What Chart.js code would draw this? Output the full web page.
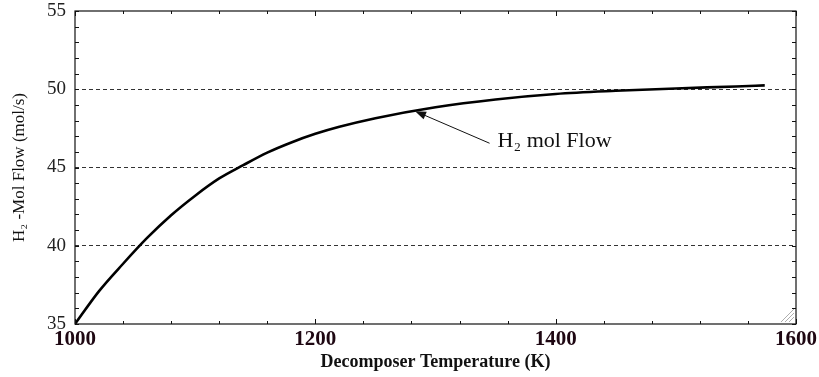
<!DOCTYPE html>
<html lang="en">
<head>
  <meta charset="UTF-8">
  <title>H2 mol flow vs decomposer temperature</title>
  <script src="https://cdn.jsdelivr.net/npm/chart.js"></script>
  <style>
    body { margin: 0; background: #fff; }
    canvas { display: block; }
  </style>
</head>
<body>
  <canvas id="flowChart" width="819" height="377"></canvas>

  <script>
    // values
    const temperature = [1000, 1020, 1040, 1060, 1080, 1100, 1120, 1140, 1160, 1180, 1200,
                         1220, 1250, 1300, 1350, 1400, 1450, 1500, 1550, 1574];
    const h2Flow = [35.0, 37.1, 38.85, 40.5, 41.95, 43.2, 44.3, 45.15, 45.95, 46.6, 47.15,
                    47.6, 48.15, 48.85, 49.35, 49.7, 49.9, 50.05, 50.18, 50.25];
    const xTicks = [1000, 1200, 1400, 1600];
    const yTicks = [35, 40, 45, 50, 55];
    const seriesLabel = "H\u2082 mol Flow";
    // arrow tip / tail and text spot, in data units
    const noteTip = [1283, 48.6];
    const noteTail = [1345, 46.55];

    const serif = "'Liberation Serif', 'Times New Roman', serif";

    // frame, inward minor ticks, the note and arrow
    const framePlugin = {
      id: "frame",
      afterDraw(chart) {
        const { ctx, chartArea: a, scales: { x, y } } = chart;
        ctx.save();
        ctx.strokeStyle = "#111";
        ctx.lineWidth = 1.2;
        ctx.strokeRect(a.left, a.top, a.right - a.left, a.bottom - a.top);

        ctx.lineWidth = 1;
        ctx.beginPath();
        for (let v = yTicks[0]; v <= yTicks[yTicks.length - 1]; v += 1) {
          const py = Math.round(y.getPixelForValue(v)) + 0.5;
          ctx.moveTo(a.left, py); ctx.lineTo(a.left + 4, py);
          ctx.moveTo(a.right, py); ctx.lineTo(a.right - 4, py);
        }
        for (let v = xTicks[0]; v <= xTicks[xTicks.length - 1]; v += 40) {
          const px = Math.round(x.getPixelForValue(v)) + 0.5;
          const len = (v - xTicks[0]) % 200 === 0 ? 5 : 3;
          ctx.moveTo(px, a.bottom); ctx.lineTo(px, a.bottom - len);
          ctx.moveTo(px, a.top); ctx.lineTo(px, a.top + len);
        }
        ctx.stroke();

        // arrow
        const tx = x.getPixelForValue(noteTip[0]), ty = y.getPixelForValue(noteTip[1]);
        const sx = x.getPixelForValue(noteTail[0]), sy = y.getPixelForValue(noteTail[1]);
        const ang = Math.atan2(ty - sy, tx - sx);
        ctx.beginPath();
        ctx.moveTo(sx, sy);
        ctx.lineTo(tx - 8 * Math.cos(ang), ty - 8 * Math.sin(ang));
        ctx.stroke();
        ctx.fillStyle = "#111";
        ctx.beginPath();
        ctx.moveTo(tx, ty);
        ctx.lineTo(tx - 11 * Math.cos(ang) + 4 * Math.sin(ang), ty - 11 * Math.sin(ang) - 4 * Math.cos(ang));
        ctx.lineTo(tx - 11 * Math.cos(ang) - 4 * Math.sin(ang), ty - 11 * Math.sin(ang) + 4 * Math.cos(ang));
        ctx.closePath();
        ctx.fill();

        ctx.font = "22px " + serif;
        ctx.textBaseline = "middle";
        ctx.fillText(seriesLabel, sx + 8, sy - 2);

        // little grip in the corner
        ctx.strokeStyle = "#999";
        ctx.lineWidth = 0.8;
        ctx.beginPath();
        for (let i = 0; i < 3; i++) {
          ctx.moveTo(a.right - 3 - 4 * i - 4, a.bottom - 2);
          ctx.lineTo(a.right - 2, a.bottom - 3 - 4 * i - 4);
        }
        ctx.stroke();
        ctx.restore();
      }
    };

    new Chart(document.getElementById("flowChart").getContext("2d"), {
      type: "line",
      data: {
        datasets: [{
          label: seriesLabel,
          data: temperature.map((t, i) => ({ x: t, y: h2Flow[i] })),
          borderColor: "#000",
          borderWidth: 2.6,
          pointRadius: 0,
          fill: false,
          cubicInterpolationMode: "monotone"
        }]
      },
      options: {
        responsive: false,
        animation: false,
        layout: { padding: { left: 6, right: 23, top: 11, bottom: 2 } },
        plugins: { legend: { display: false }, tooltip: { enabled: false } },
        scales: {
          x: {
            type: "linear",
            min: xTicks[0],
            max: xTicks[xTicks.length - 1],
            afterBuildTicks: s => { s.ticks = xTicks.map(v => ({ value: v })); },
            afterFit: s => { s.height = 51; s.paddingLeft = 0; s.paddingRight = 0; },
            grid: { display: false, drawTicks: false },
            border: { display: false },
            ticks: {
              padding: 3,
              color: "#1e0712",
              callback: v => String(v),
              font: { family: serif, size: 21, weight: "bold" }
            },
            title: {
              display: true,
              text: "Decomposer Temperature (K)",
              color: "#111",
              padding: { top: 2, bottom: 2 },
              font: { family: serif, size: 18, weight: "bold" }
            }
          },
          y: {
            min: yTicks[0],
            max: yTicks[yTicks.length - 1],
            afterBuildTicks: s => { s.ticks = yTicks.map(v => ({ value: v })); },
            afterFit: s => { s.width = 69; s.paddingTop = 0; s.paddingBottom = 0; },
            grid: {
              drawTicks: false,
              lineWidth: 1,
              color: c => (c.tick.value === yTicks[0] || c.tick.value === yTicks[yTicks.length - 1]) ? "rgba(0,0,0,0)" : "#333"
            },
            border: { display: false, dash: [4, 3] },
            ticks: {
              padding: 9,
              color: "#222",
              callback: v => String(v),
              font: { family: serif, size: 19 }
            },
            title: {
              display: true,
              text: "H\u2082 -Mol Flow (mol/s)",
              color: "#111",
              padding: { top: 3, bottom: 0 },
              font: { family: serif, size: 17 }
            }
          }
        }
      },
      plugins: [framePlugin]
    });
  </script>
</body>
</html>
